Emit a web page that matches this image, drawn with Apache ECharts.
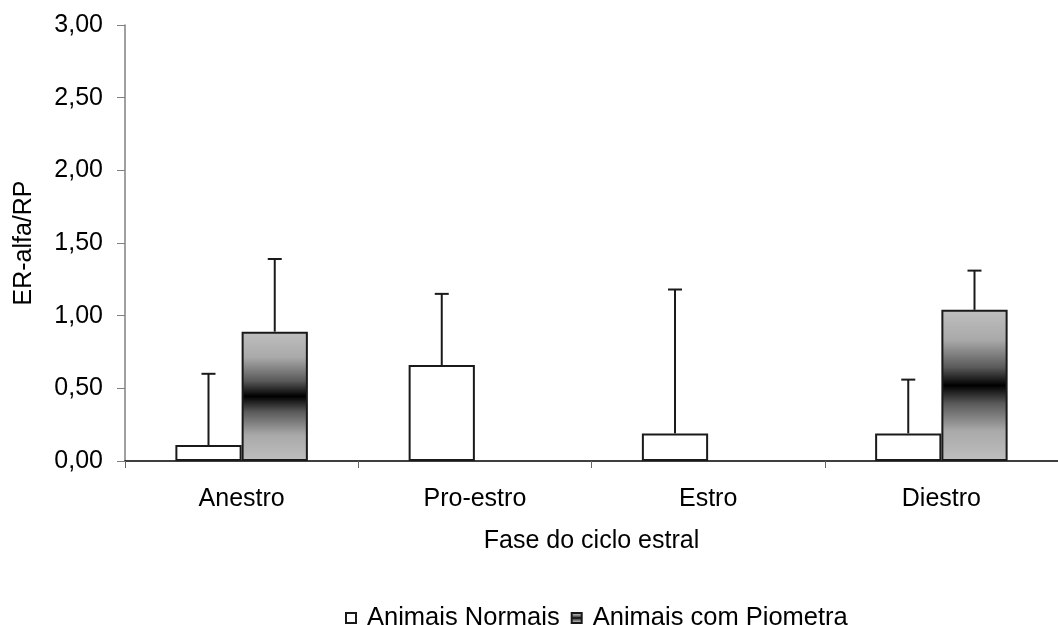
<!DOCTYPE html>
<html>
<head>
<meta charset="utf-8">
<script src="https://cdn.jsdelivr.net/npm/echarts@6/dist/echarts.min.js"></script>
<style>
  html, body { margin: 0; padding: 0; background: #fff; }
  #chart { width: 1058px; height: 625px; }
</style>
</head>
<body>
<div id="chart"></div>
<script>
// Estrous cycle phases and ER-alpha/PR ratio means with upper error bars
const phases = ['Anestro', 'Pro-estro', 'Estro', 'Diestro'];
const normalMeans = [0.11, 0.66, 0.19, 0.19];
const normalErrTop = [0.60, 1.15, 1.18, 0.56];
const pyometraMeans = [0.89, null, null, 1.04];
const pyometraErrTop = [1.39, null, null, 1.31];
const yTicks = { min: 0, max: 3, step: 0.5 };

const FONT = 'Liberation Sans, Arial, sans-serif';
const BAR_FRAC = 0.284; // share of a category band taken by one bar

const chart = echarts.init(document.getElementById('chart'));

const grayGradient = new echarts.graphic.LinearGradient(0, 0, 0, 1, [
  { offset: 0, color: '#bfbfbf' },
  { offset: 0.2, color: '#a9a9a9' },
  { offset: 0.38, color: '#5a5a5a' },
  { offset: 0.5, color: '#000000' },
  { offset: 0.62, color: '#5a5a5a' },
  { offset: 0.8, color: '#a9a9a9' },
  { offset: 1, color: '#bfbfbf' }
]);

// Upper whisker with a short cap, shifted to sit over its bar in the group
function errorRenderer(means, tops, side) {
  return function (params, api) {
    const i = api.value(0);
    if (means[i] == null) return;
    const band = api.size([1, 0])[0];
    const off = side * band * BAR_FRAC / 2;
    const base = api.coord([i, means[i]]);
    const tip = api.coord([i, tops[i]]);
    const x = base[0] + off;
    const cap = 7;
    const style = { stroke: '#1a1a1a', lineWidth: 2 };
    return {
      type: 'group',
      children: [
        { type: 'line', shape: { x1: x, y1: base[1], x2: x, y2: tip[1] }, style },
        { type: 'line', shape: { x1: x - cap, y1: tip[1], x2: x + cap, y2: tip[1] }, style }
      ]
    };
  };
}

chart.setOption({
  animation: false,
  backgroundColor: '#fff',
  grid: { left: 125, top: 25, width: 944, height: 436, containLabel: false },
  legend: {
    top: 600,
    left: 340,
    itemWidth: 10,
    itemHeight: 10,
    itemGap: 11,
    textStyle: { fontFamily: FONT, fontSize: 25.5, color: '#000', padding: [0, 0, 0, 6] },
    data: [
      { name: 'Animais Normais', icon: 'rect' },
      { name: 'Animais com Piometra', icon: 'rect' }
    ]
  },
  xAxis: {
    type: 'category',
    data: phases,
    name: 'Fase do ciclo estral',
    nameLocation: 'middle',
    nameGap: 68,
    nameTextStyle: { fontFamily: FONT, fontSize: 25, color: '#000' },
    axisLine: { lineStyle: { color: '#000', width: 1.5 } },
    axisTick: { show: true, length: 7, lineStyle: { color: '#666' } },
    axisLabel: { fontFamily: FONT, fontSize: 25, color: '#000', margin: 26 }
  },
  yAxis: {
    type: 'value',
    min: yTicks.min,
    max: yTicks.max,
    interval: yTicks.step,
    name: 'ER-alfa/RP',
    nameLocation: 'middle',
    nameGap: 88,
    nameTextStyle: { fontFamily: FONT, fontSize: 25, color: '#000' },
    axisLine: { show: true, lineStyle: { color: '#808080', width: 1.5 } },
    axisTick: { show: true, length: 8, lineStyle: { color: '#808080' } },
    axisLabel: {
      fontFamily: FONT, fontSize: 25, color: '#000', margin: 22,
      formatter: v => v.toFixed(2).replace('.', ',')
    },
    splitLine: { show: false }
  },
  series: [
    {
      name: 'Animais Normais',
      type: 'bar',
      data: normalMeans,
      barWidth: (BAR_FRAC * 100) + '%',
      barGap: '0%',
      itemStyle: { color: '#fff', borderColor: '#1a1a1a', borderWidth: 2 },
      z: 2
    },
    {
      name: 'Animais com Piometra',
      type: 'bar',
      data: pyometraMeans,
      barWidth: (BAR_FRAC * 100) + '%',
      barGap: '0%',
      itemStyle: { color: grayGradient, borderColor: '#1a1a1a', borderWidth: 2 },
      z: 2
    },
    {
      type: 'custom',
      data: phases.map((p, i) => [i, normalErrTop[i]]),
      renderItem: errorRenderer(normalMeans, normalErrTop, -1),
      z: 3,
      silent: true
    },
    {
      type: 'custom',
      data: phases.map((p, i) => [i, pyometraErrTop[i]]),
      renderItem: errorRenderer(pyometraMeans, pyometraErrTop, 1),
      z: 3,
      silent: true
    }
  ]
});
</script>
</body>
</html>
